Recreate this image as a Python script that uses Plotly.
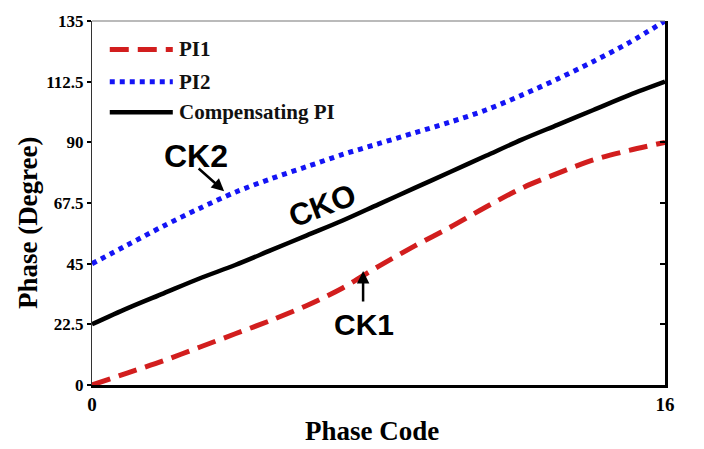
import plotly.graph_objects as go

# Phase code sweep and the three phase-interpolator outputs (degrees)
phase_code = list(range(17))
pi1 = [0, 4.5, 9, 14, 19, 24, 29.5, 36, 44, 51.5, 58.5, 66, 73, 78.5, 83.5, 87, 90]
pi2 = [45, 52, 59, 65.5, 71.5, 76.5, 81, 85.5, 89.5, 93.5, 97.5, 102, 107.5, 113.5, 120, 127, 135]
comp_pi = [22.5, 28.5, 34, 39.5, 44.5, 50, 55.5, 61, 67, 73, 79, 85, 91, 96.5, 102, 107.5, 112.5]

y_ticks = [0, 22.5, 45, 67.5, 90, 112.5, 135]
y_tick_text = ["0", "22.5", "45", "67.5", "90", "112.5", "135"]
x_ticks = [0, 16]
x_tick_text = ["0", "16"]

series_names = ["PI1", "PI2", "Compensating PI"]

RED = "#d21e1e"
BLUE = "#1414f5"
BLACK = "#000000"
SERIF = "Liberation Serif"
SANS = "Liberation Sans"

styles = [
    dict(color=RED, width=5, dash="19px,9px"),
    dict(color=BLUE, width=5, dash="5px,5px"),
    dict(color=BLACK, width=4.5, dash="solid"),
]

fig = go.Figure()
for name, ys, st in zip(series_names, [pi1, pi2, comp_pi], styles):
    fig.add_trace(go.Scatter(x=phase_code, y=ys, mode="lines", name=name,
                             line=dict(color=st["color"], width=st["width"], dash=st["dash"],
                                       shape="spline", smoothing=0.9),
                             showlegend=False))

# right-hand axis carrying inward ticks
fig.add_trace(go.Scatter(x=[0], y=[0], yaxis="y2", mode="lines",
                         line=dict(width=0), hoverinfo="skip", showlegend=False))

shapes = []
annotations = []

# hand-placed legend in the upper-left corner
leg_y = [0.922, 0.833, 0.749]
for name, st, yy in zip(series_names, styles, leg_y):
    shapes.append(dict(type="line", xref="paper", yref="paper",
                       x0=0.031, x1=0.141, y0=yy, y1=yy,
                       line=dict(color=st["color"], width=st["width"], dash=st["dash"])))
    annotations.append(dict(xref="paper", yref="paper", x=0.148, y=yy, text=name,
                            showarrow=False, xanchor="left", yanchor="middle",
                            font=dict(family=SERIF, size=21, color="#111111", weight="bold")))

# top frame line
shapes.append(dict(type="line", xref="paper", yref="paper", x0=0, x1=1, y0=1, y1=1,
                   line=dict(color="#777777", width=1.2)))

# curve labels
annotations += [
    dict(x=2.9, y=85.0, text="CK2", showarrow=False,
         font=dict(family=SANS, size=32, color="black", weight="bold")),
    dict(x=3.69, y=71.9, text="", showarrow=True, ax=-27, ay=-24,
         arrowhead=2, arrowsize=1, arrowwidth=2.5, arrowcolor="black"),
    dict(x=6.45, y=66.4, text="CKO", showarrow=False, textangle=-21,
         font=dict(family=SANS, size=31, color="black", weight="bold")),
    dict(x=7.6, y=22.6, text="CK1", showarrow=False,
         font=dict(family=SANS, size=30, color="black", weight="bold")),
    dict(x=7.57, y=42.3, text="", showarrow=True, ax=0, ay=32,
         arrowhead=2, arrowsize=1, arrowwidth=2.5, arrowcolor="black"),
]

# axis titles
annotations += [
    dict(xref="paper", yref="paper", x=-0.112, y=0.447, text="Phase (Degree)",
         textangle=-90, showarrow=False, xanchor="center", yanchor="middle",
         font=dict(family=SERIF, size=27, color="black", weight="bold")),
    dict(xref="paper", yref="paper", x=0.489, y=-0.127, text="Phase Code",
         showarrow=False, xanchor="center", yanchor="middle",
         font=dict(family=SERIF, size=27, color="black", weight="bold")),
]

fig.update_layout(
    width=704, height=449,
    margin=dict(l=92, r=39, t=14, b=64),
    paper_bgcolor="white", plot_bgcolor="white",
    xaxis=dict(range=[0, 16], tickvals=x_ticks, ticktext=x_tick_text,
               showgrid=False, zeroline=False, ticks="",
               showline=True, linecolor="black", linewidth=3,
               tickfont=dict(family=SERIF, size=19, color="black", weight="bold")),
    yaxis=dict(range=[0, 135], tickvals=y_ticks, ticktext=y_tick_text,
               showgrid=False, zeroline=False, ticks="outside", ticklen=4,
               tickcolor="black", tickwidth=1.5,
               showline=True, linecolor="#333333", linewidth=1.2,
               tickfont=dict(family=SERIF, size=17, color="black", weight="bold")),
    yaxis2=dict(range=[0, 135], tickvals=y_ticks, overlaying="y", side="right",
                showticklabels=False, showgrid=False, zeroline=False,
                ticks="inside", ticklen=5, tickcolor="black", tickwidth=1.5,
                showline=True, linecolor="black", linewidth=3),
    shapes=shapes,
    annotations=annotations,
)

fig.write_html("out.html")
